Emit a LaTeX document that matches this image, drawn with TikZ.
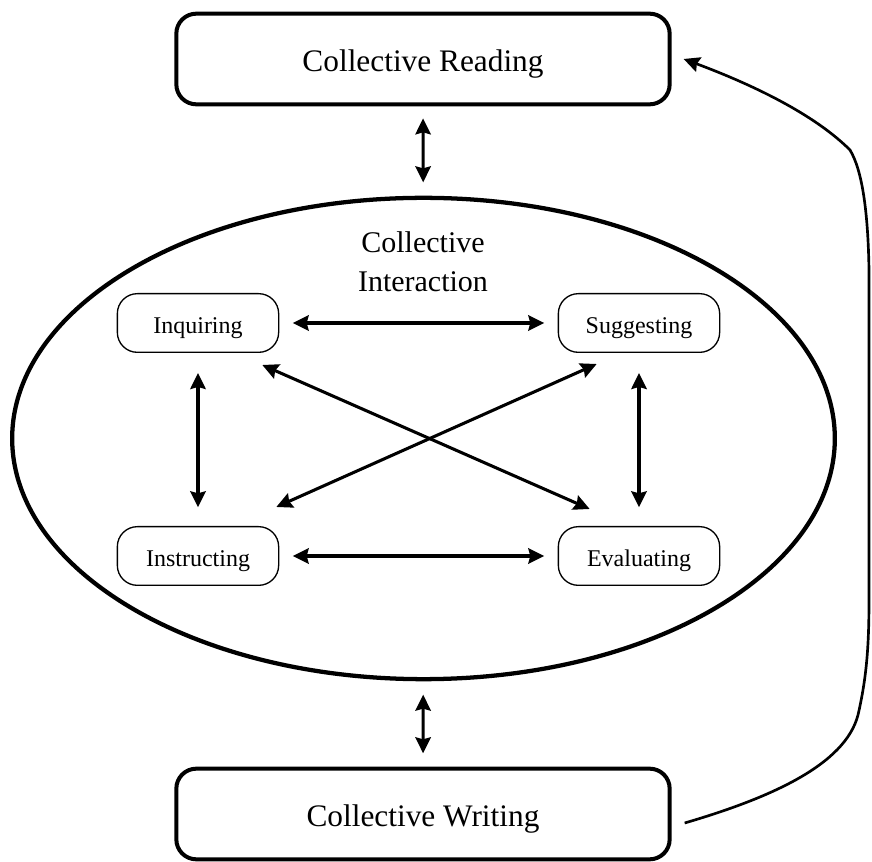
\documentclass[tikz,border=0pt]{standalone}
\usepackage{fontspec}
\setmainfont{Liberation Serif}
\usetikzlibrary{arrows.meta,shapes.geometric}
\begin{document}
\begin{tikzpicture}[x=0.75pt,y=-0.75pt,
  bigbox/.style={draw,line width=3pt,rounded corners=15pt,minimum width=370pt,
    minimum height=68pt,inner sep=0pt,text height=24pt,text depth=5pt,
    font=\fontsize{23.5}{28}\selectfont},
  smallbox/.style={draw,line width=1pt,rounded corners=15pt,minimum width=121pt,
    minimum height=44pt,inner sep=0pt,text height=20pt,text depth=4pt,
    font=\fontsize{18}{21}\selectfont},
  ring/.style={draw,ellipse,line width=3.2pt,minimum width=617pt,minimum height=361pt,inner sep=0pt},
  tip/.style={line width=2.3pt,{Stealth[length=12pt,width=11.5pt,inset=1.5pt]}-{Stealth[length=12pt,width=11.5pt,inset=1.5pt]}},
  onetip/.style={line width=2pt,-{Stealth[length=12pt,width=11.5pt,inset=1.5pt]}}]
\useasboundingbox (0,0) rectangle (872,862);

\node[bigbox] (R) at (423,59) {Collective Reading};
\node[bigbox] (W) at (423,814) {Collective Writing};
\node[ring] (CI) at (423.5,438.5) {};
\node[align=center,font=\fontsize{22.5}{29}\selectfont] (T) at (423,262) {Collective\\Interaction};

\node[smallbox] (Inq) at (198,323) {Inquiring};
\node[smallbox] (Sug) at (639,323) {Suggesting};
\node[smallbox] (Ins) at (198,556) {Instructing};
\node[smallbox] (Eva) at (639,556) {Evaluating};

% links between the main stages
\draw[tip,shorten <=9pt,shorten >=10pt] (R) -- (CI);
\draw[tip,shorten <=10pt,shorten >=10pt] (CI) -- (W);

% links inside the interaction
\draw[tip,shorten <=10pt,shorten >=10pt] (Inq) -- (Sug);
\draw[tip,shorten <=10pt,shorten >=10pt] (Ins) -- (Eva);
\draw[tip,shorten <=15pt,shorten >=14pt] (Inq.south) -- (Ins.north);
\draw[tip,shorten <=15pt,shorten >=14pt] (Sug.south) -- (Eva.north);
\draw[tip] ([shift={(-17,12)}]Inq.south east) -- ([shift={(32,-17)}]Eva.north west);
\draw[tip] ([shift={(-3,-19)}]Ins.north east) -- ([shift={(39,11)}]Sug.south west);

% feedback from writing back to reading
\draw[onetip] ([shift={(13,9)}]W.east) .. controls (770,798) and (845,765) .. (858,715)
  .. controls (866,680) and (869,650) .. (869,600) -- (869,270)
  .. controls (868,210) and (862,170) .. (850,150)
  .. controls (810,110) and (740,80) .. ([shift={(12,0)}]R.east);
\end{tikzpicture}
\end{document}
